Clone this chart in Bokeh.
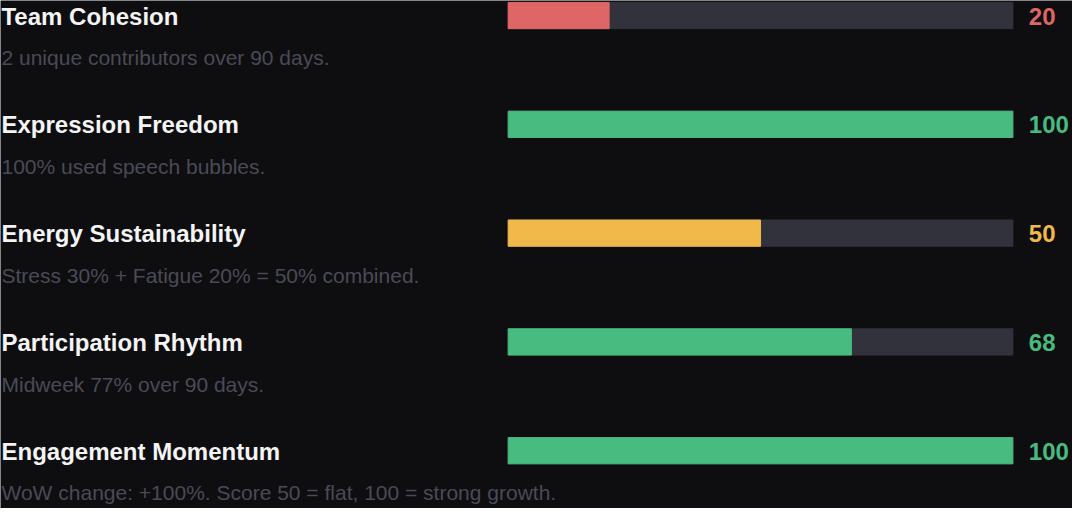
from bokeh.plotting import figure
from bokeh.models import Range1d, ColumnDataSource
from bokeh.core.properties import value
from bokeh.embed import file_html
from bokeh.resources import INLINE

# ---- data ----
titles = ["Team Cohesion", "Expression Freedom", "Energy Sustainability",
          "Participation Rhythm", "Engagement Momentum"]
scores = [20, 100, 50, 68, 100]
descriptions = [
    "2 unique contributors over 90 days.",
    "100% used speech bubbles.",
    "Stress 30% + Fatigue 20% = 50% combined.",
    "Midweek 77% over 90 days.",
    "WoW change: +100%. Score 50 = flat, 100 = strong growth.",
]
bar_colors = ["#df6666", "#48bb80", "#f0b94a", "#48bb80", "#48bb80"]

# ---- layout (reference pixel space) ----
BG = "#0e0e10"
TRACK = "#32323c"
PITCH = 112
X0, X1 = 6, 1085
TRACK_L, TRACK_R = 517, 1025
n = len(titles)
rows = list(range(n))
title_y = [18 + PITCH * i for i in rows]
bar_y = [17.5 + PITCH * i for i in rows]
desc_y = [61 + PITCH * i for i in rows]

f0 = (TRACK_L - X0) / (X1 - X0)
f1 = (TRACK_R - X0) / (X1 - X0)
span = 100 / (f1 - f0)
s_start = -f0 * span
s_end = s_start + span

p = figure(width=1072, height=508, output_backend="svg", toolbar_location=None,
           x_range=Range1d(X0, X1), y_range=Range1d(525, 2), min_border=0)
p.extra_x_ranges = {"score": Range1d(s_start, s_end)}
p.background_fill_color = BG
p.border_fill_color = BG
p.outline_line_color = None
p.axis.visible = False
p.grid.visible = False

src = ColumnDataSource(dict(
    title=titles, score=scores, desc=descriptions, color=bar_colors,
    ty=title_y, by=bar_y, dy=desc_y, zero=[0] * n, full=[100] * n,
    score_txt=[str(s) for s in scores],
    tx=[X0 + 1] * n, sx=[1041] * n,
))

p.hbar(y="by", left="zero", right="full", height=27, color=TRACK,
       x_range_name="score", source=src)
p.hbar(y="by", left="zero", right="score", height=27, color="color",
       x_range_name="score", source=src)

p.text(x="tx", y="ty", text="title", source=src, text_color="#f4f4f5",
       text_font=value("Liberation Sans"), text_font_style="bold",
       text_font_size="24px", text_baseline="middle", text_align="left")
p.text(x="tx", y="dy", text="desc", source=src, text_color="#4a4a56",
       text_font=value("Liberation Sans"), text_font_size="21px",
       text_baseline="middle", text_align="left")
p.text(x="sx", y="ty", text="score_txt", source=src, text_color="color",
       text_font=value("Liberation Sans"), text_font_style="bold",
       text_font_size="24px", text_baseline="middle", text_align="left")

open("out.html", "w").write(file_html(p, INLINE))
